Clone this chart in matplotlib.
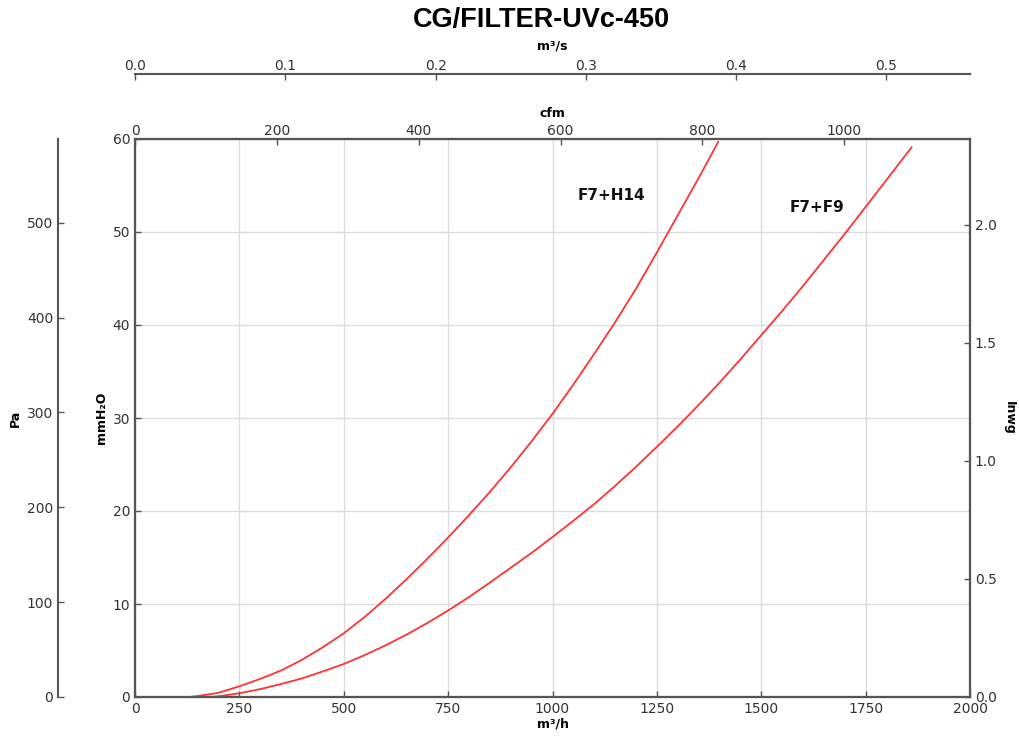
import matplotlib
matplotlib.use("Agg")
import matplotlib.pyplot as plt
import numpy as np

# ---- data ----
q_h14 = [130, 150, 200, 250, 300, 350, 400, 450, 500, 550, 600, 650, 700, 750, 800,
         850, 900, 950, 1000, 1050, 1100, 1150, 1200, 1250, 1300, 1350, 1397]
dp_h14 = [0.0, 0.1, 0.45, 1.15, 1.95, 2.85, 4.0, 5.35, 6.85, 8.6, 10.55, 12.65, 14.85, 17.15, 19.55,
          22.05, 24.7, 27.5, 30.45, 33.6, 36.9, 40.3, 43.9, 47.8, 51.8, 55.8, 59.7]

q_f9 = [180, 200, 250, 300, 350, 400, 450, 500, 550, 600, 650, 700, 750, 800, 850, 900,
        950, 1000, 1050, 1100, 1150, 1200, 1250, 1300, 1350, 1400, 1450, 1500, 1550, 1600,
        1650, 1700, 1750, 1800, 1860]
dp_f9 = [0.0, 0.08, 0.4, 0.85, 1.4, 2.0, 2.75, 3.55, 4.5, 5.55, 6.7, 7.95, 9.3, 10.75, 12.3, 13.9,
         15.5, 17.2, 18.95, 20.75, 22.7, 24.75, 26.9, 29.1, 31.4, 33.8, 36.3, 38.9, 41.5, 44.2,
         47.0, 49.8, 52.7, 55.6, 59.1]

series_names = ["F7+H14", "F7+F9"]
label_pos = [(1142, 53.9), (1633, 52.6)]

xmax = 2000.0
ymax = 60.0
title = "CG/FILTER-UVc-450"

# ---- styling ----
spine_col = "#555555"
tick_col = "#333333"
grid_col = "#dddddd"

fig = plt.figure(figsize=(10.19, 7.36), dpi=100)
L, B, W, H = 135/1019, 1-697/736, 835/1019, 558/736
ax = fig.add_axes([L, B, W, H])

ax.plot(q_h14, dp_h14, color="#ff3333", lw=1.3)
ax.plot(q_f9, dp_f9, color="#ff3333", lw=1.3)
for name, (x, y) in zip(series_names, label_pos):
    ax.text(x, y, name, fontsize=11, fontweight="bold", ha="center", va="center", color="#111111")

ax.set_xlim(0, xmax)
ax.set_ylim(0, ymax)
ax.set_xticks(np.arange(0, 2001, 250))
ax.set_yticks(np.arange(0, 61, 10))
ax.grid(True, color=grid_col, lw=1.0)
ax.set_axisbelow(True)

def style(a, pad=3.5):
    for s in a.spines.values():
        s.set_color(spine_col)
        s.set_linewidth(1.5)
    a.tick_params(direction="in", colors=spine_col, labelcolor=tick_col, labelsize=10,
                  length=4, width=1, pad=pad)

style(ax)
ax.set_xlabel("m³/h", fontsize=9, fontweight="bold", labelpad=1)

# cfm top axis
axc = ax.twiny()
axc.set_xlim(0, xmax / 1.699)
axc.set_xticks(np.arange(0, 1001, 200))
style(axc, pad=1.0)
axc.set_xlabel("cfm", fontsize=9, fontweight="bold", labelpad=5)

# inwg right axis
axi = ax.twinx()
axi.set_ylim(0, ymax / 25.4)
axi.set_yticks(np.arange(0, 2.01, 0.5))
axi.yaxis.set_major_formatter(matplotlib.ticker.FormatStrFormatter("%.1f"))
style(axi)

# Pa outer left axis
axp = ax.twinx()
axp.set_ylim(0, ymax * 9.80665)
axp.set_yticks(np.arange(0, 501, 100))
style(axp)
axp.spines["right"].set_visible(False)
axp.spines["top"].set_visible(False)
axp.spines["bottom"].set_visible(False)
axp.spines["left"].set_visible(True)
axp.spines["left"].set_position(("axes", -77/835))
axp.yaxis.set_ticks_position("left")
axp.yaxis.set_label_position("left")
axp.patch.set_visible(False)

# m³/s axis on top
axs = fig.add_axes([L, 1-74/736, W, 0.0001])
axs.set_xlim(0, xmax / 3600)
axs.set_xticks(np.arange(0, 0.51, 0.1))
axs.xaxis.set_major_formatter(matplotlib.ticker.FormatStrFormatter("%.1f"))
axs.xaxis.set_ticks_position("top")
axs.xaxis.set_label_position("top")
axs.set_yticks([])
for k in ["left", "right", "bottom"]:
    axs.spines[k].set_visible(False)
style(axs, pad=0.5)
axs.patch.set_visible(False)
axs.set_xlabel("m³/s", fontsize=9, fontweight="bold", labelpad=7)

# axis titles placed in figure coordinates
fig.text(15/1019, 1-418/736, "Pa", fontsize=9, fontweight="bold", rotation=90,
         ha="center", va="center")
fig.text(101/1019, 1-418/736, "mmH₂O", fontsize=9, fontweight="bold", rotation=90,
         ha="center", va="center")
fig.text(1009/1019, 1-418/736, "Inwg", fontsize=9, fontweight="bold", rotation=270,
         ha="center", va="center")

fig.text(541/1019, 1-20/736, title, fontsize=19.5, fontweight="bold",
         family=["Liberation Sans", "DejaVu Sans"], ha="center", va="center")

fig.savefig("out.png", dpi=100)
